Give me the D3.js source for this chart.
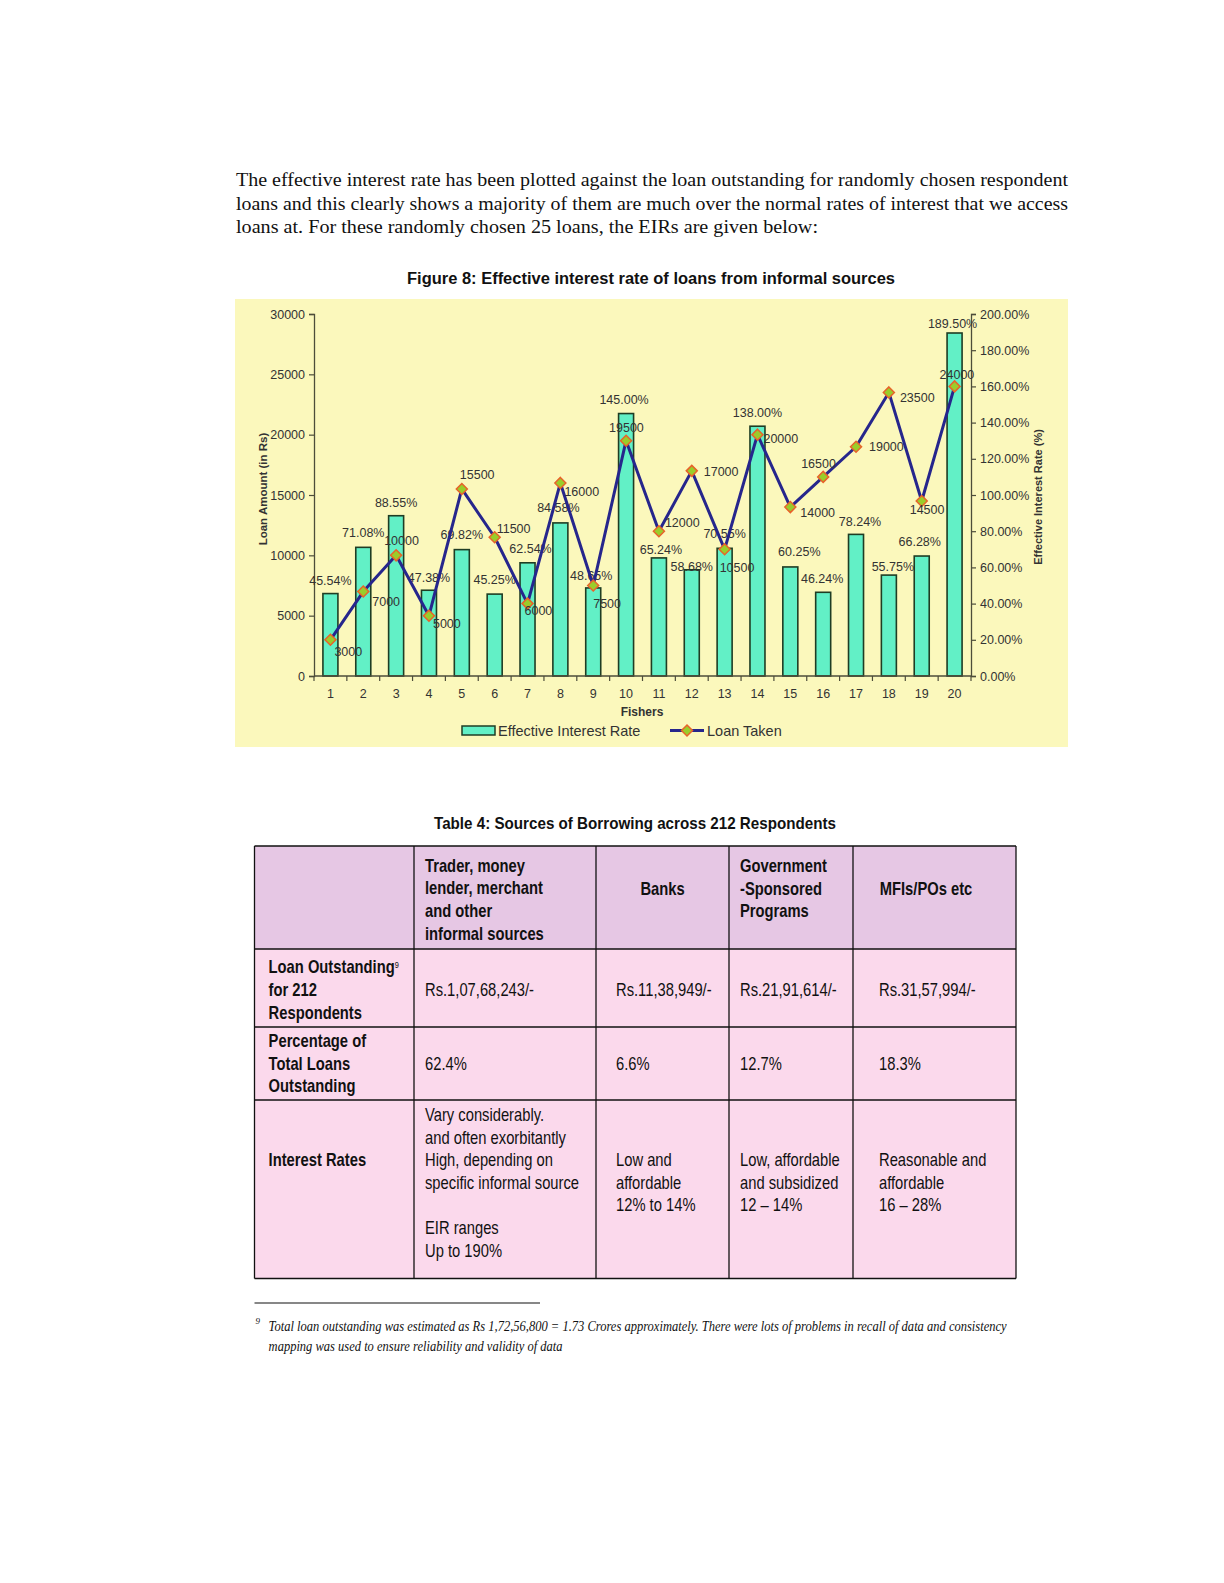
<!DOCTYPE html>
<html>
<head>
<meta charset="utf-8">
<script src="https://cdn.jsdelivr.net/npm/d3@7"></script>
<style>
  html, body { margin: 0; padding: 0; background: #ffffff; }
  svg { display: block; }
</style>
</head>
<body>
<svg id="page" width="1224" height="1583"></svg>
<script>
// ---------------- DATA ----------------
const fishers = [1, 2, 3, 4, 5, 6, 7, 8, 9, 10, 11, 12, 13, 14, 15, 16, 17, 18, 19, 20];
const eirValues = [45.54, 71.08, 88.55, 47.38, 69.82, 45.25, 62.54, 84.58, 48.65, 145.00,
                   65.24, 58.68, 70.55, 138.00, 60.25, 46.24, 78.24, 55.75, 66.28, 189.50];
const loanValues = [3000, 7000, 10000, 5000, 15500, 11500, 6000, 16000, 7500, 19500,
                    12000, 17000, 10500, 20000, 14000, 16500, 19000, 23500, 14500, 24000];
const loanTicks = [0, 5000, 10000, 15000, 20000, 25000, 30000];
const eirTicks = [0, 20, 40, 60, 80, 100, 120, 140, 160, 180, 200];

const paragraphLines = [
  "The effective interest rate has been plotted against the loan outstanding for randomly chosen respondent",
  "loans and this clearly shows a majority of them are much over the normal rates of interest that we access",
  "loans at. For these randomly chosen 25 loans, the EIRs are given below:"
];
const figureTitle = "Figure 8: Effective interest rate of loans from informal sources";
const tableTitle = "Table 4: Sources of Borrowing across 212 Respondents";
const tableHeader = [
  [],
  ["Trader, money", "lender, merchant", "and other", "informal sources"],
  ["Banks"],
  ["Government", "-Sponsored", "Programs"],
  ["MFIs/POs etc"]
];
const tableRows = [
  [["Loan Outstanding", "for 212", "Respondents"], ["Rs.1,07,68,243/-"], ["Rs.11,38,949/-"], ["Rs.21,91,614/-"], ["Rs.31,57,994/-"]],
  [["Percentage of", "Total Loans", "Outstanding"], ["62.4%"], ["6.6%"], ["12.7%"], ["18.3%"]],
  [["Interest Rates"],
   ["Vary considerably.", "and often exorbitantly", "High, depending on", "specific informal source", "", "EIR ranges", "Up to 190%"],
   ["Low and", "affordable", "12% to 14%"],
   ["Low, affordable", "and subsidized", "12 \u2013 14%"],
   ["Reasonable and", "affordable", "16 \u2013 28%"]]
];
const footnoteLines = [
  "Total loan outstanding was estimated as Rs 1,72,56,800 = 1.73 Crores approximately. There were lots of problems in recall of data and consistency",
  "mapping was used to ensure reliability and validity of data"
];

// label placement (layout only): loan labels [dx from point to text start, dy to text middle]
const loanLabelOffsets = [[4,12],[9,10],[-12,-15],[4,8],[-2,-14],[2,-9],[-3,7],[4,9],[0,18],[-17,-13],
                          [6,-9],[12,1],[-5,18],[6,4],[10,6],[-22,-13],[13,0],[11,5],[-12,9],[-15,-12]];
// EIR labels [dx from bar centre, dy from bar top to text middle]
const eirLabelOffsets = [[0,-13],[0,-15],[0,-13],[0,-13],[0,-15],[0,-14],[3,-14],[-2,-15],[-2,-12],[-2,-14],
                         [2,-8],[0,-3],[0,-15],[0,-14],[9,-15],[-1,-14],[4,-13],[4,-8],[-2,-14],[-2,-9]];

// ---------------- DRAW ----------------
const svg = d3.select("#page");
svg.append("rect").attr("width", 1224).attr("height", 1583).attr("fill", "#ffffff");

const SANS = "'Liberation Sans', Arial, sans-serif";
const NARROW = "'Liberation Sans Narrow', 'Arial Narrow', 'Liberation Sans', sans-serif";
const SERIF = "'Liberation Serif', 'Times New Roman', serif";

// paragraph
const paraY = [186, 209.5, 233];
svg.append("g").selectAll("text").data(paragraphLines).join("text")
  .attr("x", 236).attr("y", (d, i) => paraY[i])
  .attr("font-family", SERIF).attr("font-size", 19.5).attr("fill", "#111")
  .attr("textLength", (d, i) => [832, 832, 582][i]).attr("lengthAdjust", "spacingAndGlyphs")
  .text(d => d);

// figure title
svg.append("text").attr("x", 651).attr("y", 284).attr("text-anchor", "middle")
  .attr("font-family", SANS).attr("font-weight", "bold").attr("font-size", 16).attr("fill", "#111")
  .attr("textLength", 488).attr("lengthAdjust", "spacingAndGlyphs")
  .text(figureTitle);

// chart background
svg.append("rect").attr("x", 235).attr("y", 299).attr("width", 833).attr("height", 448)
  .attr("fill", "#FBF8BC");

const x = d3.scaleBand().domain(fishers).range([314, 971]).paddingInner(0).paddingOuter(0);
const yL = d3.scaleLinear().domain([0, 30000]).range([676, 314]);
const yR = d3.scaleLinear().domain([0, 200]).range([676, 314]);
const cx = d => x(d) + x.bandwidth() / 2;
const barW = 15;
const AX = "#4d4d3a";
const TXT = "#333";

// bars
const chart = svg.append("g");
chart.append("g").selectAll("rect").data(fishers).join("rect")
  .attr("x", d => cx(d) - barW / 2)
  .attr("y", (d, i) => yR(eirValues[i]))
  .attr("width", barW)
  .attr("height", (d, i) => yR(0) - yR(eirValues[i]))
  .attr("fill", "#62F0C6").attr("stroke", "#1f3d24").attr("stroke-width", 1.6);

// axes
const axL = chart.append("g").attr("transform", "translate(314,0)")
  .call(d3.axisLeft(yL).tickValues(loanTicks).tickSize(5).tickPadding(4).tickFormat(d3.format("d")));
const axR = chart.append("g").attr("transform", "translate(971,0)")
  .call(d3.axisRight(yR).tickValues(eirTicks).tickSize(5).tickPadding(4).tickFormat(d => d3.format(".2f")(d) + "%"));
const axB = chart.append("g").attr("transform", "translate(0,676)")
  .call(d3.axisBottom(x).tickSize(0).tickPadding(13).tickFormat(d => d));
[axL, axR, axB].forEach(g => {
  g.select(".domain").attr("stroke", AX).attr("stroke-width", 1.3);
  g.selectAll(".tick line").attr("stroke", AX).attr("stroke-width", 1.2);
  g.selectAll(".tick text").attr("font-family", SANS).attr("font-size", 12.5).attr("fill", TXT);
});
axB.select(".domain").attr("d", "M314,0H971");
// category boundary ticks
const lastEdge = x(fishers[fishers.length - 1]) + x.bandwidth();
chart.append("g").selectAll("line").data(fishers.map(d => x(d)).concat([lastEdge])).join("line")
  .attr("x1", d => d).attr("x2", d => d)
  .attr("y1", 676).attr("y2", 681).attr("stroke", AX).attr("stroke-width", 1.2);

// axis titles
svg.append("text").attr("transform", "translate(267,489) rotate(-90)").attr("text-anchor", "middle")
  .attr("font-family", SANS).attr("font-weight", "bold").attr("font-size", 11.5).attr("fill", TXT)
  .text("Loan Amount (in Rs)");
svg.append("text").attr("transform", "translate(1042,497) rotate(-90)").attr("text-anchor", "middle")
  .attr("font-family", SANS).attr("font-weight", "bold").attr("font-size", 11).attr("fill", TXT)
  .text("Effective Interest Rate (%)");
svg.append("text").attr("x", 642).attr("y", 716).attr("text-anchor", "middle")
  .attr("font-family", SANS).attr("font-weight", "bold").attr("font-size", 12).attr("fill", TXT)
  .text("Fishers");

// EIR labels
chart.append("g").selectAll("text").data(fishers).join("text")
  .attr("x", (d, i) => cx(d) + eirLabelOffsets[i][0])
  .attr("y", (d, i) => yR(eirValues[i]) + eirLabelOffsets[i][1])
  .attr("dy", "0.35em").attr("text-anchor", "middle")
  .attr("font-family", SANS).attr("font-size", 12.5).attr("fill", TXT)
  .text((d, i) => d3.format(".2f")(eirValues[i]) + "%");

// loan line
const line = d3.line().x((d, i) => cx(fishers[i])).y(d => yL(d));
chart.append("path").datum(loanValues).attr("d", line)
  .attr("fill", "none").attr("stroke", "#26268c").attr("stroke-width", 3).attr("stroke-linejoin", "round");
const diamond = "M0,-5.5L5.5,0L0,5.5L-5.5,0Z";
chart.append("g").selectAll("path").data(loanValues).join("path")
  .attr("transform", (d, i) => `translate(${cx(fishers[i])},${yL(d)})`)
  .attr("d", diamond).attr("fill", "#9ACD2A").attr("stroke", "#E8632A").attr("stroke-width", 1.5);

// loan labels
chart.append("g").selectAll("text").data(loanValues).join("text")
  .attr("x", (d, i) => cx(fishers[i]) + loanLabelOffsets[i][0])
  .attr("y", (d, i) => yL(d) + loanLabelOffsets[i][1])
  .attr("dy", "0.35em")
  .attr("font-family", SANS).attr("font-size", 12.5).attr("fill", TXT)
  .text(d => d);

// legend
const lg = svg.append("g");
lg.append("rect").attr("x", 462).attr("y", 726).attr("width", 33).attr("height", 9)
  .attr("fill", "#62F0C6").attr("stroke", "#1f3d24").attr("stroke-width", 1.5);
lg.append("text").attr("x", 498).attr("y", 735.5).attr("font-family", SANS).attr("font-size", 14.5).attr("fill", TXT)
  .text("Effective Interest Rate");
lg.append("line").attr("x1", 670).attr("x2", 704).attr("y1", 730.5).attr("y2", 730.5)
  .attr("stroke", "#26268c").attr("stroke-width", 3);
lg.append("path").attr("transform", "translate(687,730.5)").attr("d", diamond)
  .attr("fill", "#9ACD2A").attr("stroke", "#E8632A").attr("stroke-width", 1.5);
lg.append("text").attr("x", 707).attr("y", 735.5).attr("font-family", SANS).attr("font-size", 14.5).attr("fill", TXT)
  .text("Loan Taken");

// ---------------- TABLE ----------------
const SX = 0.82; // horizontal condensation to imitate a narrow face
svg.append("text").attr("x", 635).attr("y", 829).attr("text-anchor", "middle")
  .attr("font-family", NARROW).attr("font-weight", "bold").attr("font-size", 17).attr("fill", "#111")
  .attr("textLength", 402).attr("lengthAdjust", "spacingAndGlyphs")
  .text(tableTitle);

const colX = [254.5, 414, 596, 729, 853, 1016];
const rowY = [846, 949, 1027, 1100, 1278.5];
const tg = svg.append("g");
tg.append("rect").attr("x", colX[0]).attr("y", rowY[0]).attr("width", colX[5] - colX[0]).attr("height", rowY[1] - rowY[0])
  .attr("fill", "#E6C7E4");
tg.append("rect").attr("x", colX[0]).attr("y", rowY[1]).attr("width", colX[5] - colX[0]).attr("height", rowY[4] - rowY[1])
  .attr("fill", "#FBD9EC");
tg.selectAll("line.v").data(colX).join("line").attr("class", "v")
  .attr("x1", d => d).attr("x2", d => d).attr("y1", rowY[0]).attr("y2", rowY[4])
  .attr("stroke", "#111").attr("stroke-width", 1.3);
tg.selectAll("line.h").data(rowY).join("line").attr("class", "h")
  .attr("x1", colX[0]).attr("x2", colX[5]).attr("y1", d => d).attr("y2", d => d)
  .attr("stroke", "#111").attr("stroke-width", 1.3);

const LH = 22.6;
function cellText(lines, xPos, midY, bold, anchor) {
  const n = lines.length;
  const top = midY - (n - 1) * LH / 2;
  const t = tg.append("text").attr("font-family", NARROW).attr("font-size", 18).attr("fill", "#111")
    .attr("transform", `translate(${xPos},0) scale(${SX},1)`)
    .attr("font-weight", bold ? "bold" : "normal").attr("text-anchor", anchor || "start");
  lines.forEach((l, i) => {
    t.append("tspan").attr("x", 0).attr("y", top + i * LH).attr("dy", "0.35em").text(l);
  });
  return t;
}
const cellLeft = [268.6, 425, 616, 740, 879];
// header
cellText(tableHeader[1], cellLeft[1], 899.5, true);
cellText(tableHeader[2], (colX[2] + colX[3]) / 2, 889, true, "middle");
cellText(tableHeader[3], cellLeft[3], 888.5, true);
cellText(tableHeader[4], 926, 889, true, "middle");
// rows
const rowMid = [989.7, 1063.5, 1160];
tableRows.forEach((row, r) => {
  row.forEach((cell, c) => {
    let mid = rowMid[r];
    if (r === 2 && c > 0) mid = 1182.5;
    const t = cellText(cell, cellLeft[c], mid, c === 0);
    if (r === 0 && c === 0) {
      t.select("tspan").append("tspan").attr("font-size", 9).attr("dy", "-0.6em").attr("font-weight", "normal").text("9");
    }
  });
});

// ---------------- FOOTNOTE ----------------
svg.append("line").attr("x1", 254.5).attr("x2", 540).attr("y1", 1303).attr("y2", 1303)
  .attr("stroke", "#111").attr("stroke-width", 1.2);
svg.append("text").attr("x", 255.5).attr("y", 1324).attr("font-family", SERIF).attr("font-size", 9)
  .attr("font-style", "italic").attr("fill", "#111").text("9");
svg.append("g").selectAll("text").data(footnoteLines).join("text")
  .attr("x", 268.6).attr("y", (d, i) => [1331, 1351][i])
  .attr("font-family", SERIF).attr("font-style", "italic").attr("font-size", 14.5).attr("fill", "#111")
  .attr("textLength", (d, i) => [738, 294][i]).attr("lengthAdjust", "spacingAndGlyphs")
  .text(d => d);
</script>
</body>
</html>
